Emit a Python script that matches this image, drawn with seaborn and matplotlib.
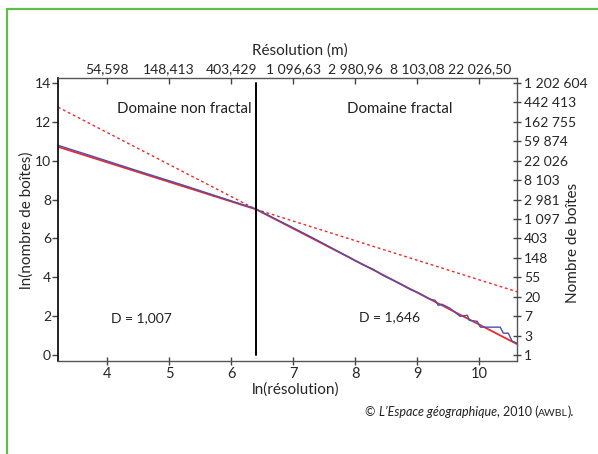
import matplotlib
matplotlib.use("Agg")
import matplotlib.pyplot as plt
from matplotlib.lines import Line2D
import seaborn as sns
import pandas as pd

# Box-counting results: ln(resolution in m) vs ln(number of boxes)
ln_resolution = [3.21, 3.80, 4.50, 5.20, 5.90, 6.40, 6.70, 7.00, 7.30, 7.60,
                 7.90, 8.10, 8.30, 8.45, 8.60, 8.75, 8.90, 9.00, 9.10, 9.20,
                 9.29, 9.34, 9.40, 9.53, 9.69, 9.81, 9.84, 9.97, 10.02, 10.34,
                 10.39, 10.47, 10.53, 10.61]
ln_boxes = [10.79, 10.19, 9.47, 8.77, 8.04, 7.52, 7.03, 6.55, 6.06, 5.55,
            5.04, 4.69, 4.40, 4.10, 3.87, 3.62, 3.36, 3.24, 3.07, 2.88,
            2.82, 2.56, 2.62, 2.41, 2.00, 2.05, 1.79, 1.74, 1.44, 1.44,
            1.13, 1.13, 0.72, 0.62]

# Fitted regimes (slope = fractal dimension D), joined at the break point
x_start, x_end = 3.21, 10.61
break_x, break_y = 6.40, 7.50
d_non_fractal = 1.007
d_fractal = 1.646

bottom_ticks = [4, 5, 6, 7, 8, 9, 10]
top_tick_labels = ["54,598", "148,413", "403,429", "1 096,63",
                   "2 980,96", "8 103,08", "22 026,50"]
left_ticks = [0, 2, 4, 6, 8, 10, 12, 14]
right_ticks = list(range(15))
right_tick_labels = ["1", "3", "7", "20", "55", "148", "403", "1 097",
                     "2 981", "8 103", "22 026", "59 874", "162 755",
                     "442 413", "1 202 604"]

sns.set_style("ticks")
plt.rcParams["font.family"] = ["Lato", "DejaVu Sans"]
plt.rcParams["text.color"] = "#222222"

DPI = 100
W, H = 598, 454
fig = plt.figure(figsize=(W / DPI, H / DPI), dpi=DPI)
AX_L, AX_R, AX_T, AX_B = 58, 517, 78, 361
ax = fig.add_axes([AX_L / W, 1 - AX_B / H, (AX_R - AX_L) / W, (AX_B - AX_T) / H])
AW, AH = AX_R - AX_L, AX_B - AX_T

RED = "#f0282c"
BLUE = "#4b4fae"


def fit_line(x0, x1, d):
    return pd.DataFrame({
        "x": [x0, x1],
        "y": [break_y - d * (x0 - break_x), break_y - d * (x1 - break_x)],
    })


# extensions of each fit beyond its own domain
for seg in (fit_line(x_start, break_x, d_fractal), fit_line(break_x, x_end, d_non_fractal)):
    sns.lineplot(data=seg, x="x", y="y", ax=ax, color=RED, lw=1.0,
                 linestyle=(0, (2, 2)), estimator=None, sort=False)

# fitted regimes
for seg in (fit_line(x_start, break_x, d_non_fractal), fit_line(break_x, x_end, d_fractal)):
    sns.lineplot(data=seg, x="x", y="y", ax=ax, color=RED, lw=1.3,
                 estimator=None, sort=False)

obs = pd.DataFrame({"x": ln_resolution, "y": ln_boxes})
sns.lineplot(data=obs, x="x", y="y", ax=ax, color=BLUE, lw=1.0,
             estimator=None, sort=False)

# break between the two domains
ax.plot([break_x, break_x], [0, 14], color="black", lw=1.4, zorder=5)

ax.set_xlim(x_start, x_end)
ax.set_ylim(-0.3, 14.25)
ax.set_xticks(bottom_ticks)
ax.set_yticks(left_ticks)
ax.set_xlabel("ln(résolution)", fontsize=11)
ax.set_ylabel("ln(nombre de boîtes)", fontsize=11)
ax.xaxis.set_label_coords((296 - AX_L) / AW, -(382 - AX_B) / AH)
ax.yaxis.set_label_coords((34 - AX_L) / AW, (AX_B - 220) / AH)
ax.tick_params(axis="x", direction="inout", length=6, width=1.0,
               labelsize=10.5, pad=1, color="#444444")
ax.tick_params(axis="y", direction="out", length=4, width=1.0,
               labelsize=10, pad=1, color="#444444")

for name, sp in ax.spines.items():
    sp.set_visible(True)
    sp.set_color("#555555")
    sp.set_linewidth(1.0)
ax.spines["left"].set_color("#111111")
ax.spines["left"].set_linewidth(1.3)

# top axis: resolution in metres
ax_top = ax.twiny()
ax_top.set_xlim(ax.get_xlim())
ax_top.set_xticks(bottom_ticks)
ax_top.set_xticklabels(top_tick_labels)
ax_top.tick_params(axis="x", direction="in", length=4, width=1.0,
                   labelsize=10, pad=2, color="#444444")
ax_top.set_xlabel("Résolution (m)", fontsize=11)
ax_top.xaxis.set_label_coords((300 - AX_L) / AW, 1 + (AX_T - 55) / AH)

# right axis: number of boxes
ax_right = ax.twinx()
ax_right.set_ylim(ax.get_ylim())
ax_right.set_yticks(right_ticks)
ax_right.set_yticklabels(right_tick_labels)
ax_right.tick_params(axis="y", direction="inout", length=6, width=1.0,
                     labelsize=10, pad=2, color="#444444")
ax_right.set_ylabel("Nombre de boîtes", fontsize=11)
ax_right.yaxis.set_label_coords((566 - AX_L) / AW, (AX_B - 243) / AH)
for a in (ax_top, ax_right):
    for sp in a.spines.values():
        sp.set_visible(False)

ax.text(5.24, 12.67, "Domaine non fractal", fontsize=10.8, ha="center", va="center")
ax.text(8.72, 12.67, "Domaine fractal", fontsize=10.8, ha="center", va="center")
ax.text(4.55, 1.9, f"D = {d_non_fractal:.3f}".replace(".", ","), fontsize=10,
        ha="center", va="center")
ax.text(8.55, 1.95, f"D = {d_fractal:.3f}".replace(".", ","), fontsize=10,
        ha="center", va="center")

# source line, built from mixed-style pieces
renderer = fig.canvas.get_renderer()
pieces = [("© ", {}), ("L’Espace géographique", {"style": "italic"}),
          (", 2010 (", {}), ("AWBL", {"fontsize": 7.5}), (").", {})]
x_px, y_px = 365, H - 416
for txt, kw in pieces:
    props = {"fontsize": 9}
    props.update(kw)
    t = fig.text(x_px / W, y_px / H, txt, ha="left", va="baseline", **props)
    x_px += t.get_window_extent(renderer).width

# green frame
fig.add_artist(Line2D([7 / W, 1], [1 - 9 / H, 1 - 9 / H],
                      transform=fig.transFigure, color="#5cbf48", lw=1.6))
fig.add_artist(Line2D([7 / W, 7 / W], [0, 1 - 9 / H],
                      transform=fig.transFigure, color="#5cbf48", lw=1.6))

fig.savefig("out.png", dpi=DPI)
